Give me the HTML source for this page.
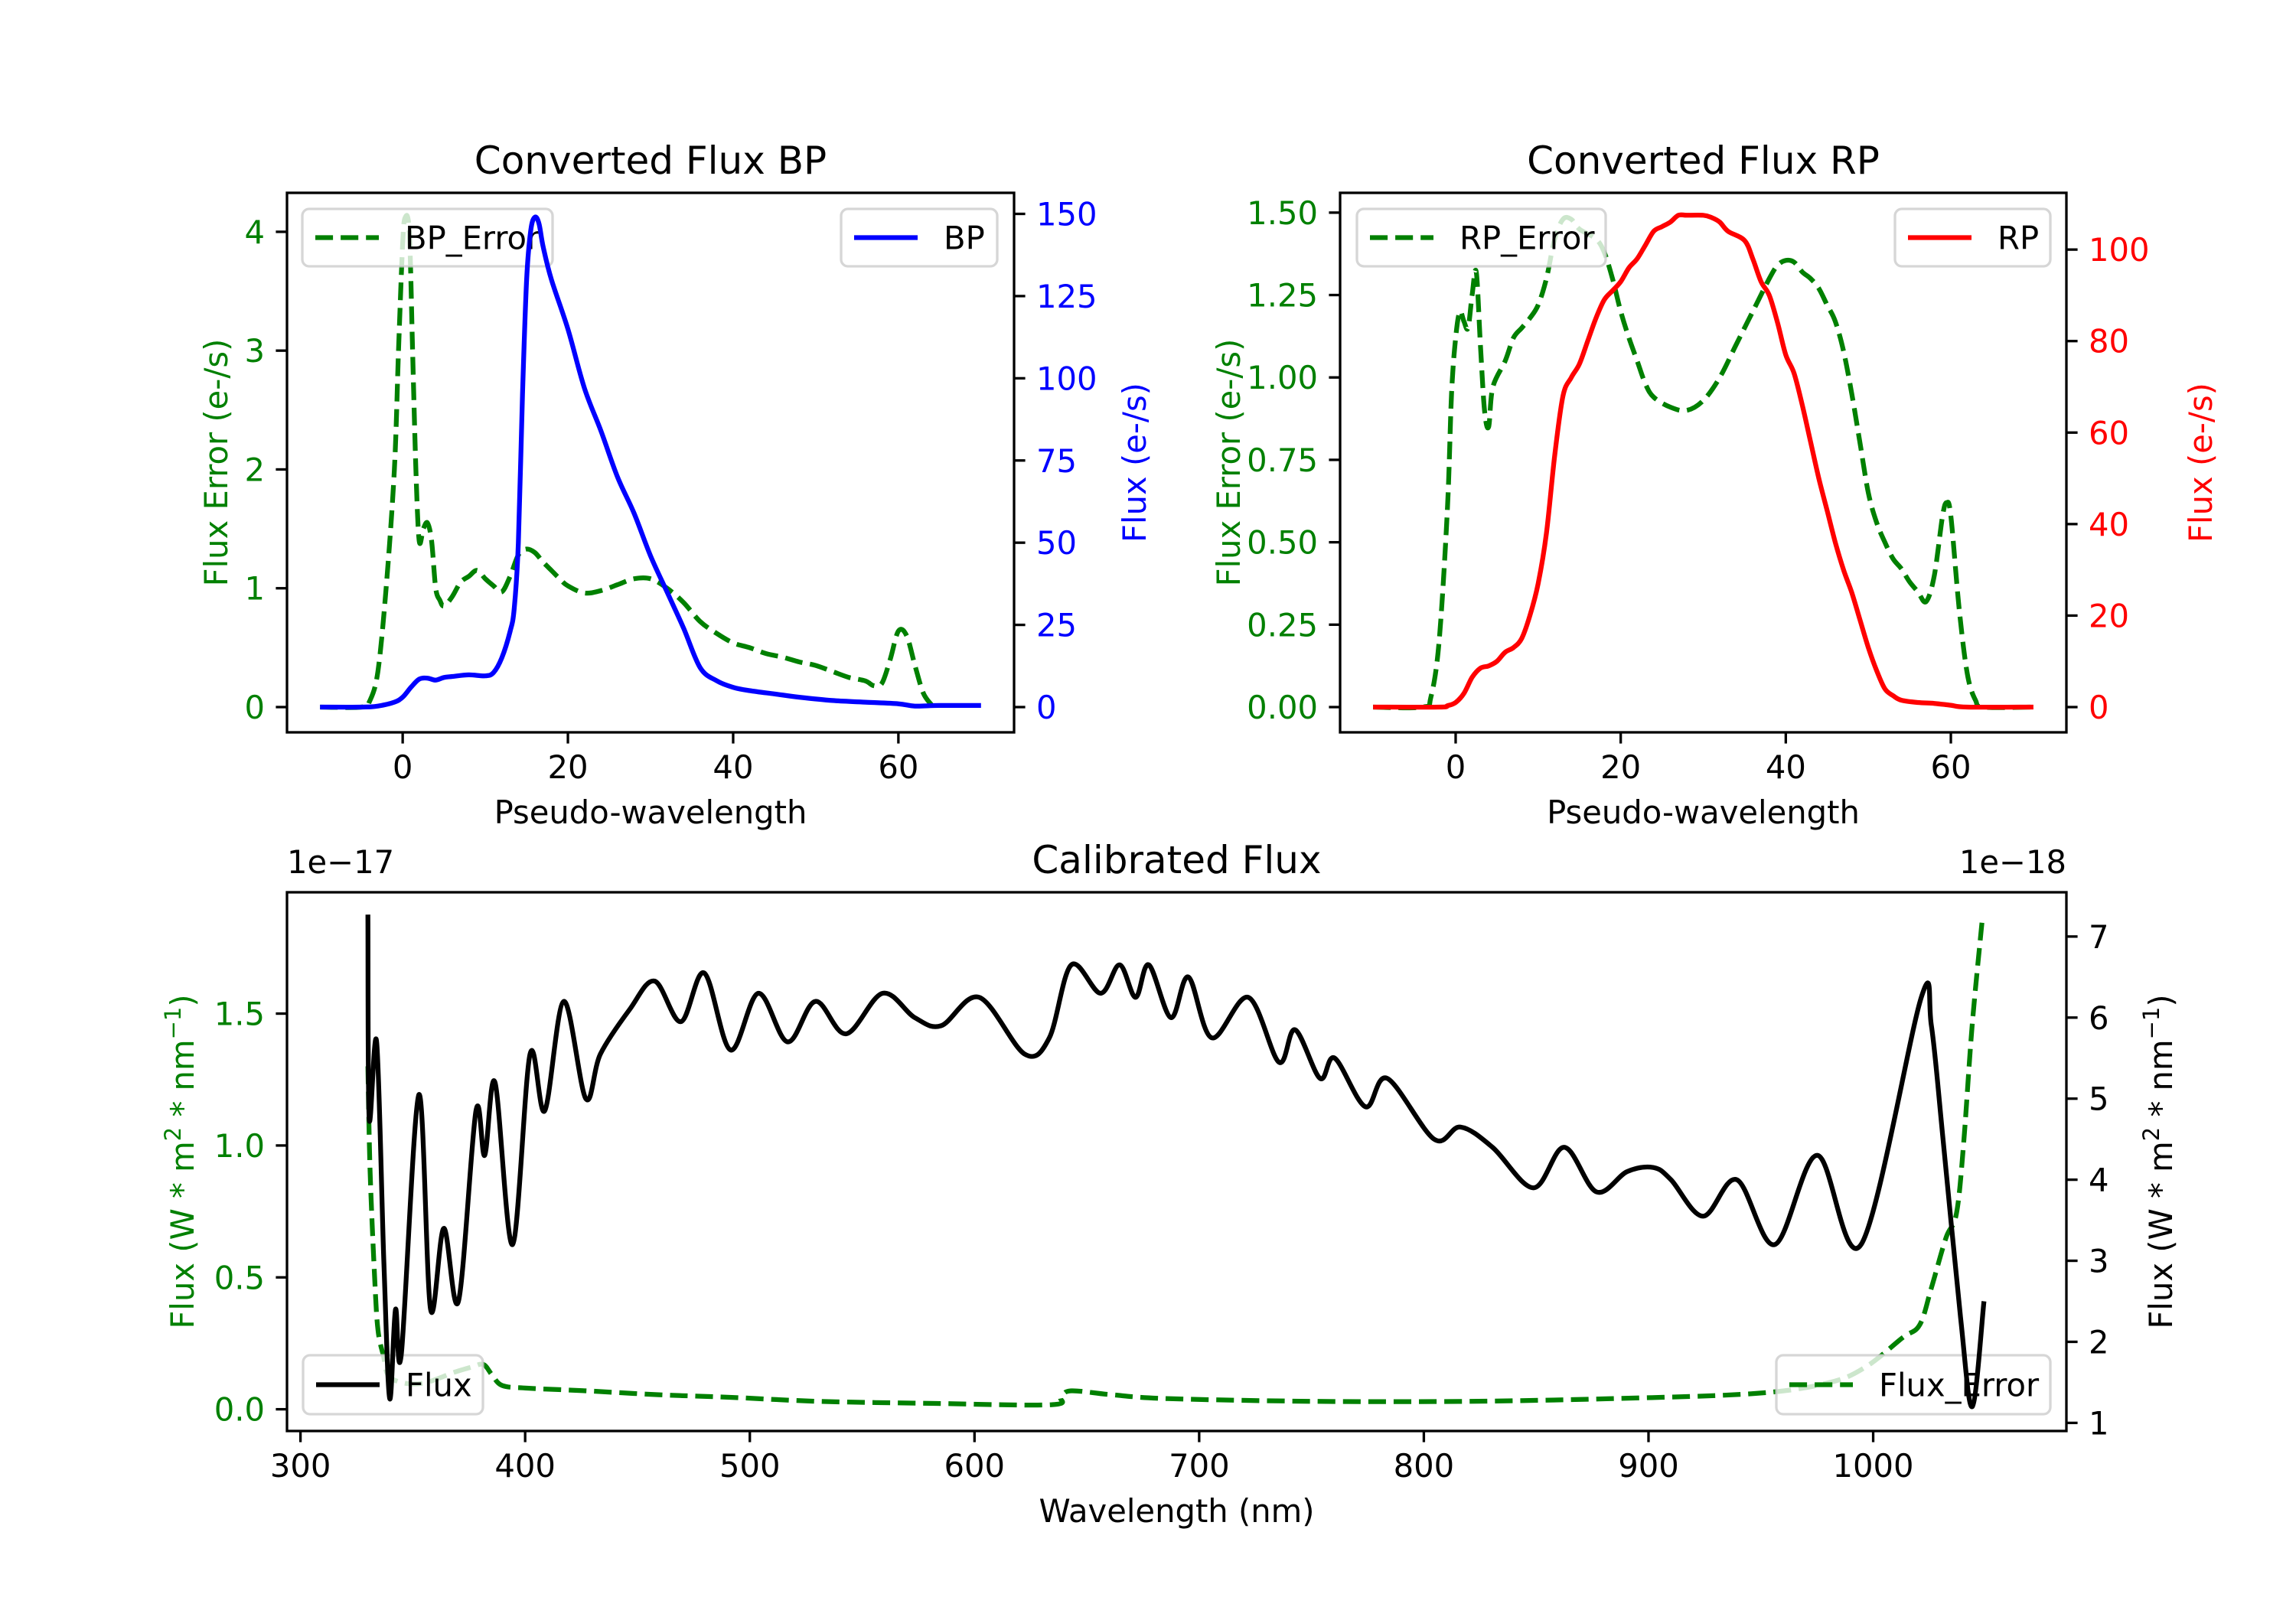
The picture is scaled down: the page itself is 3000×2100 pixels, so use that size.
<!DOCTYPE html>
<html><head><meta charset="utf-8"><title>Flux spectra</title>
<style>html,body{margin:0;padding:0;background:#fff}svg{display:block}text{font-family:"DejaVu Sans","Liberation Sans",sans-serif}</style>
</head><body>
<svg id="fig" xmlns="http://www.w3.org/2000/svg" width="3000" height="2100" viewBox="0 0 3000 2100"></svg>
<script>
// ---------- BP panel data ----------
const bpX = [-10,-5,-3,-1,0,1,2,3,4,5,6,8,10,11,12,13,13.5,14,14.5,15,15.5,16,16.5,17,18,20,22,24,26,28,30,32,34,36,38,40,42,45,48,52,56,60,62,65,70];
const bpFlux = [0,0,0.3,1.5,3,6,8.5,8.8,8.2,9,9.3,9.8,9.5,10.5,15,23,30,50,95,130,145,149,147,140,130,115,97,84,70,59,46,35,24,12,8,6,5,4,3,2,1.5,1,0.3,0.5,0.5];
const bpErrX = [-10,-5,-4,-3,-2,-1,-0.5,0,0.3,0.8,1.2,1.6,2,2.5,3,3.5,4,4.5,5,6,7,8,9,10,11,12,13,14,15,16,17,18,19,20,22,24,26,28,30,32,34,36,38,40,42,44,46,48,50,52,54,56,57,58,59,60,61,62,63,64];
const bpErr = [0,0,0.05,0.3,1.0,2.0,3.0,3.9,4.12,4.0,3.0,2.0,1.4,1.5,1.55,1.4,1.0,0.9,0.85,0.93,1.05,1.1,1.15,1.08,1.02,0.97,1.1,1.28,1.33,1.3,1.22,1.15,1.08,1.02,0.96,0.98,1.03,1.08,1.08,1.0,0.88,0.72,0.62,0.54,0.5,0.45,0.42,0.38,0.35,0.3,0.25,0.22,0.18,0.2,0.4,0.64,0.6,0.35,0.12,0.02];
// ---------- RP panel data ----------
const rpX = [-10,-2,-1,0,1,2,3,4,5,6,7,8,9,10,11,12,13,14,15,16,17,18,19,20,21,22,23,24,25,26,27,28,30,31,32,33,35,36,37,38,39,40,41,42,43,44,45,46,47,48,49,50,51,52,53,54,56,58,60,62,70];
const rpFlux = [0,0,0.3,1,3,6.5,8.5,9,10,12,13,15,20,27,38,55,68,72,75,80,85,89,91,93,96,98,101,104,105,106,107.5,107.5,107.5,107,106,104,102,98,93,90,84,77,73,66,58,50,43,36,30,25,19,13,8,4,2.5,1.5,1,0.8,0.4,0,0];
const rpErrX = [-10,-4,-3,-2,-1,-0.5,0,0.5,1,1.5,2,2.5,3,3.5,4,4.5,6,7,8,9,10,11,12,13,14,15,17,18,19,20,21,22,23,24,26,28,30,32,34,36,38,39,40,41,42,43,44,45,46,47,48,49,50,51,52,53,54,55,56,57,58,59,59.5,60,61,62,63,64,70];
const rpErr = [0,0,0.03,0.2,0.6,0.95,1.12,1.2,1.17,1.15,1.25,1.32,1.1,0.9,0.85,0.97,1.05,1.12,1.15,1.18,1.22,1.3,1.42,1.48,1.48,1.45,1.42,1.38,1.3,1.2,1.12,1.05,0.98,0.94,0.91,0.9,0.93,1.0,1.1,1.2,1.3,1.34,1.355,1.35,1.32,1.3,1.27,1.22,1.17,1.08,0.95,0.8,0.65,0.56,0.5,0.45,0.42,0.38,0.35,0.32,0.4,0.58,0.62,0.58,0.3,0.1,0.02,0,0];
// ---------- Calibrated panel data ----------
const calX = [330,330.6,333.9,337.1,339.7,342.3,344.9,352.7,357.9,363.8,370.3,378.1,382.0,386.6,394.4,402.2,408.7,417.2,427,433.5,446.5,457.6,469.3,479.7,491.4,503.8,516.8,529.2,542.8,559.1,573.4,585.2,602.1,622.3,633.3,643.1,656.1,664.6,671.7,677.6,687.4,695.2,705.6,721.9,735.5,742.7,753.8,760.3,774,783.7,804.6,816.3,830.6,848.8,862.5,876.8,890.5,902.2,910,924.3,939.3,956.2,975.1,994.6,1021.4,1025.9,1031.1,1038.9,1044.1,1049.3];
const calFlux = [7.27,4.75,5.7,3.0,1.3,2.4,1.85,5.05,2.4,3.4,2.5,4.85,4.3,5.2,3.2,5.55,4.85,6.2,5.0,5.55,6.1,6.45,5.95,6.55,5.6,6.3,5.7,6.2,5.8,6.3,6.0,5.9,6.25,5.55,5.75,6.65,6.3,6.65,6.25,6.65,6.0,6.5,5.75,6.25,5.45,5.85,5.25,5.5,4.9,5.25,4.5,4.65,4.4,3.9,4.4,3.85,4.1,4.15,4.0,3.55,4.0,3.2,4.3,3.2,6.25,5.9,4.5,2.3,1.2,2.5];
const calErrX = [330,331,333,334.5,337,339,345.6,355.3,368.4,376.2,381.4,385.3,389.8,400.9,427,459.5,492,531,583,634,638.5,643,661,687,752.5,817.6,882.7,947.8,980,996.6,1012.9,1020.7,1025.9,1032.4,1037,1040.2,1044.1,1048.7];
const calErr = [1.3,0.9,0.5,0.3,0.2,0.13,0.1,0.1,0.14,0.16,0.17,0.13,0.09,0.08,0.07,0.055,0.045,0.03,0.022,0.017,0.045,0.07,0.055,0.04,0.03,0.03,0.04,0.06,0.1,0.16,0.27,0.32,0.46,0.65,0.74,1.0,1.46,1.87];
// ---------- tick labels ----------
const pwTicks = [0,20,40,60];
const bpErrTicks = [0,1,2,3,4];
const bpFluxTicks = [0,25,50,75,100,125,150];
const rpErrTicks = [0,0.25,0.5,0.75,1.0,1.25,1.5];
const rpErrLabels = ["0.00","0.25","0.50","0.75","1.00","1.25","1.50"];
const rpFluxTicks = [0,20,40,60,80,100];
const wlTicks = [300,400,500,600,700,800,900,1000];
const calErrTicks = [0,0.5,1.0,1.5];
const calErrLabels = ["0.0","0.5","1.0","1.5"];
const calFluxTicks = [1,2,3,4,5,6,7];

const NS = "http://www.w3.org/2000/svg";
const svg = document.getElementById('fig');
const FS = 41.7, TL = 14.6, LW = 6.25;
const GREEN = "#008000";

function mk(tag, attrs, name, parent) {
  const el = document.createElementNS(NS, tag);
  for (const k in attrs) el.setAttribute(k, attrs[k]);
  
  
  (parent || svg).appendChild(el);
  return el;
}
function txt(s, attrs, name, parent) {
  const t = mk('text', attrs, name, parent);
  t.textContent = s;
  return t;
}
function scale(d0, d1, p0, p1) { return v => p0 + (v - d0) / (d1 - d0) * (p1 - p0); }
function smoothPath(xs, ys, sx, sy) {
  const P = xs.map((x, i) => [sx(x), sy(ys[i])]);
  let d = "M" + P[0][0].toFixed(1) + " " + P[0][1].toFixed(1);
  for (let i = 0; i < P.length - 1; i++) {
    const p0 = P[Math.max(0, i - 1)], p1 = P[i], p2 = P[i + 1], p3 = P[Math.min(P.length - 1, i + 2)];
    const t = 1 / 6;
    const c1 = [p1[0] + (p2[0] - p0[0]) * t, p1[1] + (p2[1] - p0[1]) * t];
    const c2 = [p2[0] - (p3[0] - p1[0]) * t, p2[1] - (p3[1] - p1[1]) * t];
    d += " C" + c1[0].toFixed(1) + " " + c1[1].toFixed(1) + " " + c2[0].toFixed(1) + " " + c2[1].toFixed(1) + " " + p2[0].toFixed(1) + " " + p2[1].toFixed(1);
  }
  return d;
}

function panel(cfg) {
  const g = mk('g', {}, cfg.name);
  const sx = scale(cfg.xmin, cfg.xmax, cfg.x0, cfg.x1);
  const syL = scale(cfg.lmin, cfg.lmax, cfg.y1, cfg.y0);
  const syR = scale(cfg.rmin, cfg.rmax, cfg.y1, cfg.y0);
  const clipId = cfg.name + '-clip';
  const cp = mk('clipPath', {id: clipId}, cfg.name + '-clip-path', g);
  mk('rect', {x: cfg.x0, y: cfg.y0, width: cfg.x1 - cfg.x0, height: cfg.y1 - cfg.y0}, 'clip-rect', cp);
  mk('path', {d: smoothPath(cfg.errX, cfg.err, sx, syL), fill: 'none', stroke: GREEN, 'stroke-width': LW, 'stroke-dasharray': '23.1 10', 'clip-path': 'url(#' + clipId + ')'}, cfg.errName, g);
  legend(g, cfg.legL);
  if (cfg.legBoth) legend(g, cfg.legR);
  mk('path', {d: smoothPath(cfg.fluxX, cfg.flux, sx, syR), fill: 'none', stroke: cfg.color, 'stroke-width': LW, 'stroke-linejoin': 'round', 'clip-path': 'url(#' + clipId + ')'}, cfg.fluxName, g);
  if (!cfg.legBoth) legend(g, cfg.legR);
  mk('rect', {x: cfg.x0, y: cfg.y0, width: cfg.x1 - cfg.x0, height: cfg.y1 - cfg.y0, fill: 'none', stroke: '#000', 'stroke-width': 3.3}, cfg.name + '-frame', g);
  cfg.xt.forEach((v, i) => {
    const x = sx(v);
    mk('line', {x1: x, x2: x, y1: cfg.y1, y2: cfg.y1 + TL, stroke: '#000', 'stroke-width': 3.3}, 'x-tick', g);
    txt(String(v), {x: x, y: cfg.y1 + 29 + 31, 'font-size': FS, 'text-anchor': 'middle'}, 'x-tick-label', g);
  });
  cfg.lt.forEach((v, i) => {
    const y = syL(v);
    mk('line', {x1: cfg.x0 - TL, x2: cfg.x0, y1: y, y2: y, stroke: '#000', 'stroke-width': 3.3}, 'left-y-tick', g);
    txt(cfg.ltl ? cfg.ltl[i] : String(v), {x: cfg.x0 - 29, y: y + 15, 'font-size': FS, 'text-anchor': 'end', fill: GREEN}, 'left-y-tick-label', g);
  });
  cfg.rt.forEach((v, i) => {
    const y = syR(v);
    mk('line', {x1: cfg.x1, x2: cfg.x1 + TL, y1: y, y2: y, stroke: '#000', 'stroke-width': 3.3}, 'right-y-tick', g);
    txt(String(v), {x: cfg.x1 + 29, y: y + 15, 'font-size': FS, 'text-anchor': 'start', fill: cfg.color}, 'right-y-tick-label', g);
  });
  txt(cfg.title, {x: (cfg.x0 + cfg.x1) / 2, y: cfg.y0 - 25, 'font-size': 50, 'text-anchor': 'middle'}, cfg.name + '-title', g);
  txt(cfg.xlabel, {x: (cfg.x0 + cfg.x1) / 2, y: cfg.xlabY, 'font-size': FS, 'text-anchor': 'middle'}, 'x-axis-title', g);
  const cy = (cfg.y0 + cfg.y1) / 2;
  const yl = txt('', {x: 0, y: 0, 'font-size': FS, 'text-anchor': 'middle', fill: GREEN, transform: 'translate(' + cfg.ylabLX + ',' + cy + ') rotate(-90)'}, 'left-y-axis-title', g);
  yl.innerHTML = cfg.ylabL;
  const yr = txt('', {x: 0, y: 0, 'font-size': FS, 'text-anchor': 'middle', fill: cfg.color, transform: 'translate(' + cfg.ylabRX + ',' + cy + ') rotate(-90)'}, 'right-y-axis-title', g);
  yr.innerHTML = cfg.ylabR;
  return g;
}
function legend(g, L) {
  const lg = mk('g', {}, L.name, g);
  mk('rect', {x: L.x, y: L.y, width: L.w, height: L.h, rx: 9, fill: 'rgba(255,255,255,0.8)', stroke: 'rgba(204,204,204,0.8)', 'stroke-width': 3.3}, 'legend-box', lg);
  const ly = L.y + L.h / 2;
  const a = {x1: L.x + 17, x2: L.x + 100, y1: ly, y2: ly, stroke: L.color, 'stroke-width': LW};
  if (L.dashed) a['stroke-dasharray'] = '23.1 10';
  mk('line', a, 'legend-swatch', lg);
  txt(L.label, {x: L.x + 134, y: ly + 15, 'font-size': FS}, 'legend-label', lg);
}

panel({name: 'bp-panel', x0: 375, x1: 1325, y0: 252, y1: 957, xmin: -14, xmax: 74,
  lmin: -0.2126, lmax: 4.328, rmin: -7.68, rmax: 156.4,
  errX: bpErrX, err: bpErr, fluxX: bpX, flux: bpFlux, color: '#0000ff',
  errName: 'bp-error-line', fluxName: 'bp-flux-line', legBoth: false,
  legL: {name: 'bp-error-legend', x: 395, y: 273, w: 327, h: 75, label: 'BP_Error', color: GREEN, dashed: true},
  legR: {name: 'bp-legend', x: 1099, y: 273, w: 204, h: 75, label: 'BP', color: '#0000ff', dashed: false},
  xt: pwTicks, lt: bpErrTicks, rt: bpFluxTicks,
  title: 'Converted Flux BP', xlabel: 'Pseudo-wavelength', xlabY: 1076,
  ylabLX: 297, ylabRX: 1497, ylabL: 'Flux Error (e-/s)', ylabR: 'Flux (e-/s)'});

panel({name: 'rp-panel', x0: 1751, x1: 2700, y0: 252, y1: 957, xmin: -14, xmax: 74,
  lmin: -0.0766, lmax: 1.560, rmin: -5.52, rmax: 112.4,
  errX: rpErrX, err: rpErr, fluxX: rpX, flux: rpFlux, color: '#ff0000',
  errName: 'rp-error-line', fluxName: 'rp-flux-line', legBoth: false,
  legL: {name: 'rp-error-legend', x: 1773, y: 273, w: 325, h: 75, label: 'RP_Error', color: GREEN, dashed: true},
  legR: {name: 'rp-legend', x: 2476, y: 273, w: 203, h: 75, label: 'RP', color: '#ff0000', dashed: false},
  xt: pwTicks, lt: rpErrTicks, ltl: rpErrLabels, rt: rpFluxTicks,
  title: 'Converted Flux RP', xlabel: 'Pseudo-wavelength', xlabY: 1076,
  ylabLX: 1620, ylabRX: 2890, ylabL: 'Flux Error (e-/s)', ylabR: 'Flux (e-/s)'});

panel({name: 'calibrated-panel', x0: 375, x1: 2700, y0: 1166, y1: 1870, xmin: 294, xmax: 1086,
  lmin: -0.0824, lmax: 1.960, rmin: 0.9, rmax: 7.546,
  errX: calErrX, err: calErr, fluxX: calX, flux: calFlux, color: '#000000',
  errName: 'calibrated-error-line', fluxName: 'calibrated-flux-line', legBoth: true,
  legL: {name: 'flux-legend', x: 396, y: 1771, w: 235, h: 77, label: 'Flux', color: '#000000', dashed: false},
  legR: {name: 'flux-error-legend', x: 2321, y: 1771, w: 358, h: 77, label: 'Flux_Error', color: GREEN, dashed: true},
  xt: wlTicks, lt: calErrTicks, ltl: calErrLabels, rt: calFluxTicks,
  title: 'Calibrated Flux', xlabel: 'Wavelength (nm)', xlabY: 1989,
  ylabLX: 253, ylabRX: 2838,
  ylabL: 'Flux (W * m<tspan baseline-shift="super" font-size="29">2</tspan> * nm<tspan baseline-shift="super" font-size="29">−1</tspan>)',
  ylabR: 'Flux (W * m<tspan baseline-shift="super" font-size="29">2</tspan> * nm<tspan baseline-shift="super" font-size="29">−1</tspan>)'});

txt('1e−17', {x: 375, y: 1141, 'font-size': FS}, 'left-axis-offset-text');
txt('1e−18', {x: 2700, y: 1141, 'font-size': FS, 'text-anchor': 'end'}, 'right-axis-offset-text');
</script>
</body></html>
